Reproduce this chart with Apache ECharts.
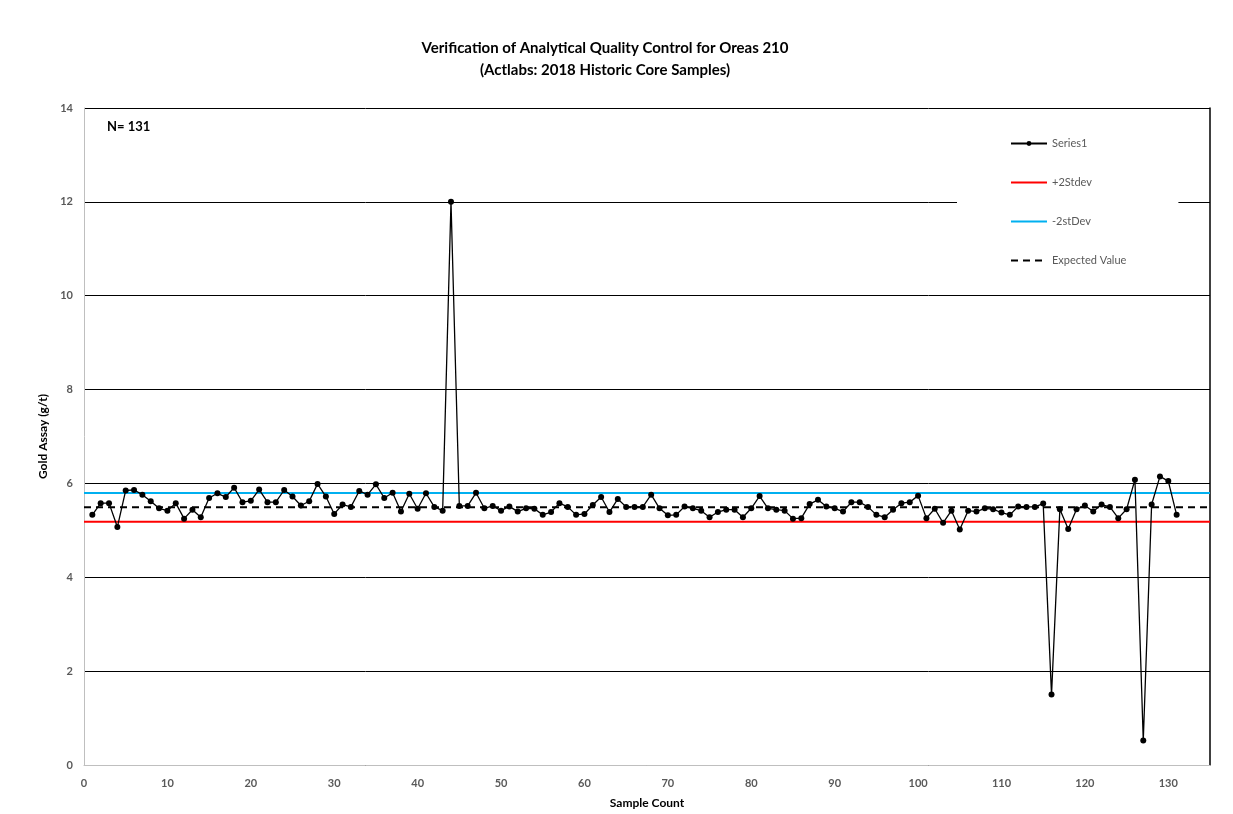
<!DOCTYPE html>
<html>
<head>
<meta charset="utf-8">
<style>
  html, body { margin: 0; padding: 0; background: #fff; }
  #chart { width: 1233px; height: 814px; }
</style>
<script src="https://cdn.jsdelivr.net/npm/echarts@6/dist/echarts.min.js"></script>
</head>
<body>
<div id="chart"></div>
<script>
// Gold assays (g/t) for OREAS 210 inserts, in sample order 1..131
const goldAssay = [
  5.33, 5.58, 5.58, 5.07, 5.85, 5.86, 5.76, 5.62, 5.47, 5.42,
  5.58, 5.25, 5.44, 5.28, 5.69, 5.79, 5.71, 5.91, 5.60, 5.63,
  5.87, 5.60, 5.60, 5.86, 5.72, 5.53, 5.62, 5.99, 5.72, 5.35,
  5.55, 5.50, 5.84, 5.76, 5.98, 5.69, 5.80, 5.40, 5.78, 5.46,
  5.79, 5.50, 5.42, 12.00, 5.52, 5.52, 5.80, 5.47, 5.52, 5.42,
  5.51, 5.40, 5.47, 5.46, 5.33, 5.39, 5.58, 5.50, 5.33, 5.35,
  5.54, 5.71, 5.39, 5.67, 5.50, 5.50, 5.50, 5.76, 5.47, 5.32,
  5.33, 5.51, 5.47, 5.42, 5.28, 5.39, 5.44, 5.44, 5.28, 5.47,
  5.73, 5.47, 5.44, 5.42, 5.25, 5.26, 5.56, 5.65, 5.51, 5.47,
  5.40, 5.60, 5.60, 5.50, 5.33, 5.28, 5.44, 5.58, 5.60, 5.74,
  5.26, 5.46, 5.16, 5.42, 5.02, 5.42, 5.40, 5.47, 5.45, 5.38,
  5.33, 5.51, 5.50, 5.50, 5.57, 1.50, 5.45, 5.03, 5.45, 5.53,
  5.40, 5.55, 5.50, 5.26, 5.45, 6.08, 0.52, 5.55, 6.15, 6.05,
  5.33
];

// Control limits (certified value and ±2 SD bounds)
const expectedValue = 5.49;
const plus2Stdev = 5.186;
const minus2Stdev = 5.794;

// Horizontal span of the control lines along the sample axis
const limitSpan = [0, 135];

// Axis ticks
const xTicks = { min: 0, max: 135, interval: 10 };
const yTicks = { min: 0, max: 14, interval: 2 };

const seriesNames = ['Series1', '+2Stdev', '-2stDev', 'Expected Value'];

const FONT = 'Lato, "Open Sans", "Liberation Sans", sans-serif';

const assayPoints = goldAssay.map((v, i) => [i + 1, v]);
const flatLine = (y) => limitSpan.map((x) => [x, y]);

const chart = echarts.init(document.getElementById('chart'), null, { renderer: 'canvas' });

// limit lines show only a stroke in the legend (no marker)
const hiddenMarker = { opacity: 0 };

chart.setOption({
  animation: false,
  backgroundColor: '#ffffff',
  textStyle: { fontFamily: FONT },
  title: {
    text: 'Verification of Analytical Quality Control for Oreas 210\n(Actlabs: 2018 Historic Core Samples)',
    left: 600,
    top: 32,
    textAlign: 'center',
    textStyle: {
      fontFamily: FONT,
      fontSize: 15,
      fontWeight: 'bold',
      color: '#000000',
      lineHeight: 22
    }
  },
  grid: { left: 84, right: 23, top: 108, bottom: 47, containLabel: false },
  legend: {
    orient: 'vertical',
    left: 957,
    top: 118,
    padding: [20, 52, 14, 53],
    backgroundColor: '#ffffff',
    itemWidth: 36,
    itemHeight: 6,
    itemGap: 28,
    textStyle: { fontFamily: FONT, fontSize: 11, color: '#595959' },
    data: [
      { name: seriesNames[0] },
      { name: seriesNames[1], itemStyle: hiddenMarker },
      { name: seriesNames[2], itemStyle: hiddenMarker },
      { name: seriesNames[3], itemStyle: hiddenMarker }
    ]
  },
  xAxis: {
    type: 'value',
    min: xTicks.min,
    max: xTicks.max,
    interval: xTicks.interval,
    name: 'Sample Count',
    nameLocation: 'middle',
    nameGap: 32,
    nameTextStyle: { fontFamily: FONT, fontSize: 12, fontWeight: 'bold', color: '#000' },
    axisLine: { show: true, lineStyle: { color: '#bfbfbf', width: 1 } },
    axisTick: { show: false },
    splitLine: { show: false },
    axisLabel: {
      showMaxLabel: false,
      margin: 13,
      fontFamily: FONT,
      fontSize: 11,
      fontWeight: 'bold',
      color: '#595959'
    }
  },
  yAxis: [
    {
      type: 'value',
      min: yTicks.min,
      max: yTicks.max,
      interval: yTicks.interval,
      name: 'Gold Assay (g/t)',
      nameLocation: 'middle',
      nameGap: 30,
      nameTextStyle: { fontFamily: FONT, fontSize: 12, fontWeight: 'bold', color: '#000' },
      axisLine: { show: true, lineStyle: { color: '#bfbfbf', width: 1 } },
      axisTick: { show: false },
      splitLine: { show: true, lineStyle: { color: '#000000', width: 1 } },
      axisLabel: {
        margin: 11,
        fontFamily: FONT,
        fontSize: 11,
        fontWeight: 'bold',
        color: '#595959'
      }
    },
    {
      // right-hand frame of the plot area
      type: 'value',
      position: 'right',
      min: yTicks.min,
      max: yTicks.max,
      interval: yTicks.interval,
      axisLine: { show: true, lineStyle: { color: '#000000', width: 1.5 } },
      axisTick: { show: false },
      axisLabel: { show: false },
      splitLine: { show: false }
    }
  ],
  graphic: [
    {
      type: 'text',
      left: 107,
      top: 120,
      style: {
        text: 'N= 131',
        font: 'bold 13px ' + FONT,
        fill: '#000000'
      }
    }
  ],
  series: [
    {
      name: seriesNames[0],
      type: 'line',
      data: assayPoints,
      symbol: 'circle',
      symbolSize: 6,
      showAllSymbol: true,
      lineStyle: { color: '#000000', width: 1.3 },
      itemStyle: { color: '#000000' },
      z: 3
    },
    {
      name: seriesNames[1],
      type: 'line',
      data: flatLine(plus2Stdev),
      symbol: 'none',
      lineStyle: { color: '#ff0000', width: 2 },
      itemStyle: { color: '#ff0000' },
      z: 2
    },
    {
      name: seriesNames[2],
      type: 'line',
      data: flatLine(minus2Stdev),
      symbol: 'none',
      lineStyle: { color: '#00b0f0', width: 2 },
      itemStyle: { color: '#00b0f0' },
      z: 2
    },
    {
      name: seriesNames[3],
      type: 'line',
      data: flatLine(expectedValue),
      symbol: 'none',
      lineStyle: { color: '#000000', width: 2, type: [7, 5] },
      itemStyle: { color: '#000000' },
      z: 2
    }
  ]
});
</script>
</body>
</html>
